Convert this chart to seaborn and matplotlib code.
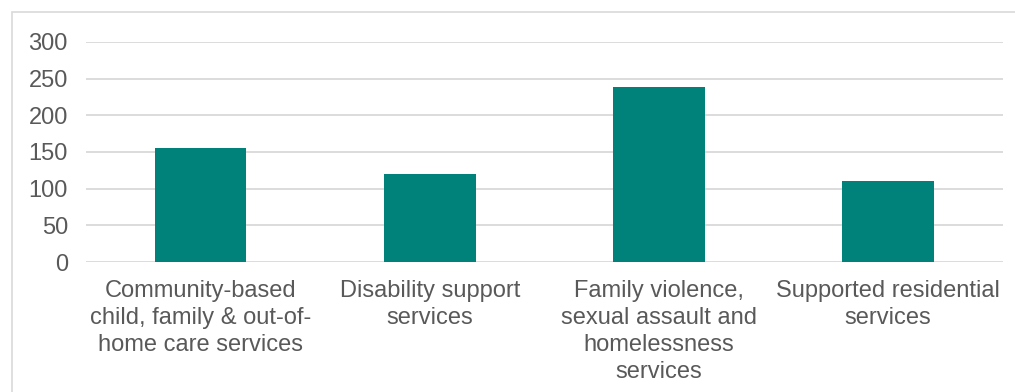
import matplotlib
matplotlib.use("Agg")
import matplotlib.pyplot as plt
import seaborn as sns
import pandas as pd
from matplotlib.patches import Rectangle

categories = [
    "Community-based\nchild, family & out-of-\nhome care services",
    "Disability support\nservices",
    "Family violence,\nsexual assault and\nhomelessness\nservices",
    "Supported residential\nservices",
]
values = [156, 120, 239, 110]
yticks = [0, 50, 100, 150, 200, 250, 300]

df = pd.DataFrame({"category": categories, "value": values})

sns.set_theme(style="white")
plt.rcParams["font.family"] = ["Liberation Sans", "DejaVu Sans"]

fig = plt.figure(figsize=(10.15, 3.92), dpi=100)
ax = fig.add_axes([0.0847, 0.3316, 0.9033, 0.5614])

sns.barplot(data=df, x="category", y="value", color="#00827A", width=0.4,
            saturation=1, ax=ax, edgecolor="none")

ax.set_ylim(0, 300)
ax.set_yticks(yticks)
ax.set_yticklabels([str(t) for t in yticks])
ax.yaxis.grid(True, color="#D9D9D9", linewidth=1.3)
ax.set_axisbelow(True)
for s in ax.spines.values():
    s.set_visible(False)
ax.set_xlabel("")
ax.set_ylabel("")
ax.tick_params(axis="y", length=0, pad=13, labelsize=17, labelcolor="#595959")
ax.tick_params(axis="x", length=0, pad=13, labelsize=17, labelcolor="#595959")
for lab in ax.get_xticklabels():
    lab.set_linespacing(1.29)

fig.patches.append(Rectangle((12 / 1015, -0.1), 1.2, 1 - 12 / 392 + 0.1,
                             transform=fig.transFigure, fill=False,
                             edgecolor="#D9D9D9", linewidth=1.2))

fig.savefig("out.png", dpi=100)
